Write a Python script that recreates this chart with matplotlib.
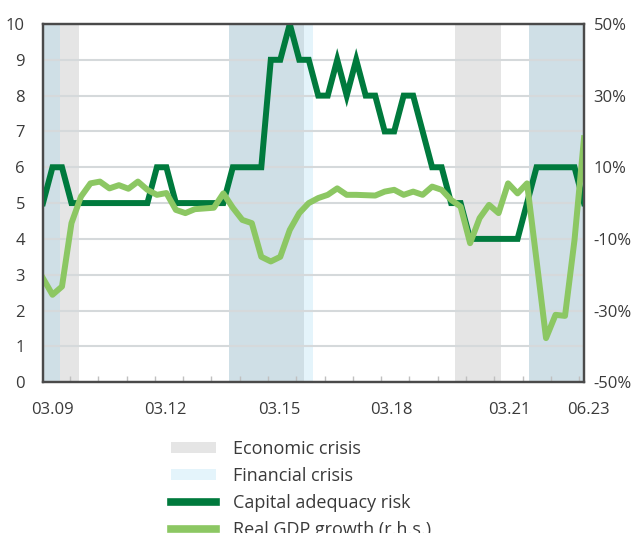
import matplotlib.pyplot as plt
from matplotlib.patches import Patch
from matplotlib.lines import Line2D
from matplotlib.transforms import blended_transform_factory
import numpy as np

plt.rcParams['font.family'] = ['Open Sans', 'DejaVu Sans']

# quarterly data, 03.09 .. 06.23
capital_risk = [5, 6, 6, 5, 5, 5, 5, 5, 5, 5, 5, 5, 6, 6, 5, 5, 5, 5, 5, 5,
                6, 6, 6, 6, 9, 9, 10, 9, 9, 8, 8, 9, 8, 9, 8, 8, 7, 7, 8, 8,
                7, 6, 6, 5, 5, 4, 4, 4, 4, 4, 4, 5, 6, 6, 6, 6, 6, 5]
gdp_growth = [-21, -25.6, -23.3, -5.6, 1.8, 5.5, 6, 4.1, 5, 4, 6, 3.7, 2.3, 2.8,
              -1.9, -2.8, -1.7, -1.5, -1.3, 2.7, -1.3, -4.7, -5.6, -15, -16.3,
              -15, -7.5, -2.8, 0, 1.4, 2.3, 4.1, 2.3, 2.3, 2.2, 2.1, 3.2, 3.7,
              2.3, 3.2, 2.3, 4.6, 3.7, 0.9, -1, -11.2, -4.2, -0.5, -2.8, 5.5,
              2.7, 5.5, -16, -37.7, -31.2, -31.5, -10.3, 18.1]

# crisis periods (in quarter index units)
econ_crises = [(0, 3.8), (19.6, 27.5), (43.4, 48.3), (51.25, 57)]
fin_crises = [(0, 1.8), (19.6, 28.5), (51.25, 57)]

x_labels = ['03.09', '03.12', '03.15', '03.18', '03.21', '06.23']
x_label_pos = [1.0, 12.85, 24.95, 36.75, 49.1, 57.45]

c_dark = '#007a3d'
c_light = '#8cc763'
c_econ = '#e5e5e5'
c_fin = '#e4f4fb'
c_both = '#cfdfe6'
c_text = '#3a3a3a'

x = np.arange(len(capital_risk))

fig = plt.figure(figsize=(6.37, 5.33), dpi=100)
ax = fig.add_axes([0.0675, 0.283, 0.8493, 0.672])

for a, b in econ_crises:
    ax.axvspan(a, b, color=c_econ, lw=0, zorder=0)
for a, b in fin_crises:
    ax.axvspan(a, b, color=c_fin, lw=0, zorder=0)
    for c, d in econ_crises:
        lo, hi = max(a, c), min(b, d)
        if hi > lo:
            ax.axvspan(lo, hi, color=c_both, lw=0, zorder=0.5)

ax.set_xlim(0, 57)
ax.set_ylim(0, 10)
ax.set_yticks(range(11))
ax.grid(axis='y', color='#d5d9db', lw=1.5, zorder=1)
ax.set_axisbelow(True)

ax2 = ax.twinx()
ax2.set_ylim(-50, 50)
ax2.set_yticks([-50, -30, -10, 10, 30, 50])
ax2.set_yticklabels([f'{v}%' for v in [-50, -30, -10, 10, 30, 50]])

ax.plot(x, capital_risk, color=c_dark, lw=4.3, zorder=3, solid_joinstyle='miter')
ax2.plot(x, gdp_growth, color=c_light, lw=4.3, zorder=2)
ax2.patch.set_visible(False)

# minor ticks along the bottom
ax.set_xticks(np.arange(19) * 2.98 + 2.85)
ax.tick_params(axis='x', direction='in', length=4, width=1, color='#c0c0c0',
               labelbottom=False)
ax.tick_params(axis='y', length=0, pad=13, labelsize=12, labelcolor=c_text)
ax2.tick_params(axis='y', length=0, pad=7, labelsize=12, labelcolor=c_text)

tr = blended_transform_factory(ax.transData, ax.transAxes)
for p, lab in zip(x_label_pos, x_labels):
    ax.text(p, -0.078, lab, transform=tr, ha='center', va='center',
            fontsize=12, color=c_text)

for a in (ax, ax2):
    for s in a.spines.values():
        s.set_color('#4a4a4a')
        s.set_linewidth(1.6)

handles = [Patch(color=c_econ, lw=0), Patch(color=c_fin, lw=0),
           Line2D([], [], color=c_dark, lw=5.5), Line2D([], [], color=c_light, lw=5.5)]
labels = ['Economic crisis', 'Financial crisis', 'Capital adequacy risk',
          'Real GDP growth (r.h.s.)']
fig.legend(handles, labels, loc='upper left', bbox_to_anchor=(0.255, 0.1915),
           frameon=False, fontsize=13, handlelength=2.45, handleheight=0.55,
           handletextpad=0.95, labelspacing=0.5, borderpad=0, labelcolor=c_text)

fig.savefig('out.png', dpi=100)
